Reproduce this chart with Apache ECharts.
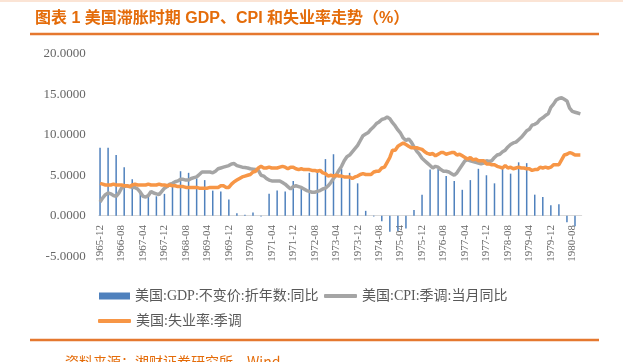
<!DOCTYPE html>
<html><head><meta charset="utf-8">
<script src="https://cdn.jsdelivr.net/npm/echarts@6/dist/echarts.min.js"></script>
<style>html,body{margin:0;padding:0;background:#fff}#c{width:623px;height:362px}</style>
</head><body><div id="c"></div>
<script>
// Monthly categories 1965-12 .. 1980-11
const startYear = 1965, startMonth = 12, monthCount = 180;
const months = [];
for (let i = 0; i < monthCount; i++) {
  const m0 = startMonth - 1 + i;
  const y = startYear + Math.floor(m0 / 12);
  const m = (m0 % 12) + 1;
  months.push(y + '-' + (m < 10 ? '0' + m : m));
}
// Quarterly GDP YoY (quarter-end months, 1965-12 .. 1980-09)
const gdpQuarterMonths = [];
for (let k = 0; k < 60; k++) gdpQuarterMonths.push(months[k * 3]);
const gdpQuarterly = [
  8.4, 8.4, 7.5, 6.0, 4.5, 2.8, 2.5, 2.4, 2.7, 3.7,
  5.5, 5.3, 4.6, 4.4, 3.1, 3.0, 2.0, 0.3, 0.1, 0.4,
  -0.1, 2.7, 3.1, 3.0, 4.3, 3.3, 5.3, 5.5, 7.0, 7.6,
  5.8, 5.3, 4.0, 0.6, -0.1, -0.7, -2.0, -1.9, -1.6, 0.7,
  2.6, 5.7, 5.8, 4.9, 4.3, 3.2, 4.4, 5.8, 5.0, 4.0,
  5.8, 5.2, 6.6, 6.5, 2.6, 2.3, 1.3, 1.4, -0.8, -1.3
];
// CPI YoY, monthly
const cpi = [
  1.7,
  2.2, 2.6, 2.8, 2.7, 2.5, 2.4, 2.8, 3.4, 3.6, 3.7, 3.6, 3.5,
  3.5, 3.3, 2.9, 2.4, 2.3, 2.5, 3.0, 2.8, 2.7, 2.6, 3.0, 3.4,
  3.6, 3.9, 4.0, 4.2, 4.3, 4.5, 4.5, 4.4, 4.4, 4.6, 4.7, 4.8,
  5.1, 5.4, 5.4, 5.4, 5.4, 5.3, 5.5, 5.8, 5.9, 6.0, 6.1, 6.2,
  6.4, 6.45, 6.2, 6.1, 6.0, 5.95, 5.9, 5.8, 5.75, 5.7, 5.6, 5.0,
  4.9, 4.6, 4.4, 4.3, 4.3, 4.3, 4.3, 4.1, 3.9, 3.6, 3.3, 3.6,
  3.7, 3.6, 3.5, 3.3, 3.1, 3.0, 2.9, 2.9, 3.0, 3.1, 3.3, 3.4,
  3.7, 4.1, 4.6, 5.0, 5.6, 6.1, 6.8, 7.3, 7.5, 7.9, 8.3, 8.7,
  9.3, 9.9, 10.1, 10.3, 10.7, 11.0, 11.4, 11.6, 11.9, 12.0, 12.2, 12.0,
  11.5, 11.1, 10.6, 10.2, 9.6, 9.3, 9.5, 9.1, 8.5, 8.0, 7.6, 7.1,
  6.8, 6.5, 6.2, 5.9, 6.1, 6.0, 5.7, 5.5, 5.5, 5.4, 5.2, 5.0,
  5.3, 5.8, 6.3, 6.8, 6.9, 6.8, 6.7, 6.6, 6.5, 6.4, 6.5, 6.8,
  6.7, 6.8, 7.2, 7.5, 7.6, 7.9, 8.1, 8.5, 8.8, 9.0, 9.1, 9.4,
  9.7, 10.1, 10.5, 10.7, 11.2, 11.3, 11.5, 11.9, 12.1, 12.4, 12.6, 13.4,
  13.8, 14.3, 14.5, 14.6, 14.4, 14.2, 13.3, 12.9, 12.8, 12.7, 12.6
];
// Unemployment rate, monthly
const unemp = [
  4.0,
  3.9, 3.8, 3.8, 3.8, 3.9, 3.8, 3.8, 3.8, 3.7, 3.7, 3.6, 3.8,
  3.9, 3.8, 3.8, 3.8, 3.8, 3.9, 3.8, 3.8, 3.8, 3.9, 3.8, 3.8,
  3.7, 3.8, 3.7, 3.7, 3.6, 3.6, 3.6, 3.5, 3.5, 3.5, 3.5, 3.5,
  3.4, 3.4, 3.4, 3.4, 3.5, 3.5, 3.5, 3.5, 3.7, 3.7, 3.5, 3.5,
  3.9, 4.2, 4.4, 4.6, 4.8, 4.9, 5.0, 5.1, 5.4, 5.5, 5.9, 6.1,
  5.9, 5.9, 6.0, 5.9, 5.9, 5.9, 6.0, 6.1, 6.0, 5.8, 6.0, 6.0,
  5.8, 5.7, 5.8, 5.7, 5.7, 5.7, 5.6, 5.6, 5.5, 5.6, 5.3, 5.2,
  4.9, 5.0, 4.9, 5.0, 4.9, 4.9, 4.8, 4.8, 4.8, 4.6, 4.8, 4.9,
  5.1, 5.2, 5.1, 5.1, 5.1, 5.4, 5.5, 5.5, 5.9, 6.0, 6.6, 7.2,
  8.1, 8.1, 8.6, 8.8, 9.0, 8.8, 8.6, 8.4, 8.4, 8.4, 8.3, 8.2,
  7.9, 7.7, 7.6, 7.7, 7.4, 7.6, 7.8, 7.8, 7.6, 7.7, 7.8, 7.8,
  7.5, 7.6, 7.4, 7.2, 7.0, 7.2, 6.9, 7.0, 6.8, 6.8, 6.8, 6.4,
  6.4, 6.3, 6.3, 6.1, 6.0, 5.9, 6.2, 5.9, 6.0, 5.8, 5.9, 6.0,
  5.9, 5.9, 5.8, 5.8, 5.6, 5.7, 5.7, 6.0, 5.9, 6.0, 5.9, 6.0,
  6.3, 6.3, 6.3, 6.9, 7.5, 7.6, 7.8, 7.7, 7.5, 7.5, 7.5
];
const seriesNames = ['美国:GDP:不变价:折年数:同比', '美国:CPI:季调:当月同比', '美国:失业率:季调'];
const yMin = -5, yMax = 20, yStep = 5;

// Build monthly GDP array (nulls between quarters)
const gdpMonthly = months.map(m => {
  const k = gdpQuarterMonths.indexOf(m);
  return k >= 0 ? gdpQuarterly[k] : null;
});

const serif = '"Liberation Serif", "Noto Sans CJK SC", serif';
const legendText = {fontSize: 14, color: '#595959', fontFamily: serif};
const chart = echarts.init(document.getElementById('c'), null, {renderer: 'canvas'});
chart.setOption({
  animation: false,
  backgroundColor: '#fff',
  title: {
    text: '图表 1 美国滞胀时期 GDP、CPI 和失业率走势（%）',
    left: 30, top: 6,
    textStyle: {fontSize: 16, fontWeight: 'bold', color: '#e46c0a', fontFamily: '"Liberation Sans", "Noto Sans CJK SC", sans-serif'}
  },
  graphic: [
    {type: 'rect', shape: {x: 0, y: 0, width: 623, height: 2}, style: {fill: '#fbe4d5'}, silent: true},
    {type: 'line', shape: {x1: 30, y1: 34, x2: 599, y2: 34}, style: {stroke: '#e5782f', lineWidth: 2.5}, silent: true},
    {type: 'line', shape: {x1: 30, y1: 340, x2: 599, y2: 340}, style: {stroke: '#e5782f', lineWidth: 2.5}, silent: true},
    {type: 'text', left: 65, top: 355, style: {text: '资料来源：湘财证券研究所，Wind', fill: '#e46c0a', font: '14px "Noto Sans CJK SC", sans-serif'}, silent: true}
  ],
  legend: [
    {data: [{name: seriesNames[0], icon: 'rect'}], left: 94, top: 284, itemWidth: 31, itemHeight: 7, textStyle: legendText},
    {data: [{name: seriesNames[1], icon: 'roundRect'}], left: 319, top: 284, itemWidth: 33, itemHeight: 4, textStyle: legendText},
    {data: [{name: seriesNames[2], icon: 'roundRect'}], left: 93, top: 309, itemWidth: 33, itemHeight: 4, textStyle: legendText}
  ],
  grid: {left: 98.7, width: 483, top: 54, height: 202.1, containLabel: false},
  xAxis: {
    type: 'category',
    data: months,
    boundaryGap: true,
    axisLine: {onZero: true, lineStyle: {color: '#d9d9d9', width: 1}},
    axisTick: {alignWithLabel: true, interval: 7, length: 4, lineStyle: {color: '#d9d9d9'}},
    axisLabel: {interval: 7, rotate: 90, margin: -31, fontSize: 11, color: '#666666', fontFamily: serif}
  },
  yAxis: {
    type: 'value', min: yMin, max: yMax, interval: yStep,
    axisLine: {show: false}, axisTick: {show: false}, splitLine: {show: false},
    axisLabel: {margin: 13, fontSize: 13, color: '#666666', fontFamily: serif, formatter: v => v.toFixed(4)}
  },
  series: [
    {name: seriesNames[0], type: 'bar', data: gdpMonthly, barWidth: 1.5, itemStyle: {color: '#4f81bd'}},
    {name: seriesNames[1], type: 'line', data: cpi, symbol: 'none', lineStyle: {color: '#a5a5a5', width: 3.5}, itemStyle: {color: '#a5a5a5'}},
    {name: seriesNames[2], type: 'line', data: unemp, symbol: 'none', lineStyle: {color: '#f79646', width: 3.5}, itemStyle: {color: '#f79646'}}
  ]
});
</script></body></html>
